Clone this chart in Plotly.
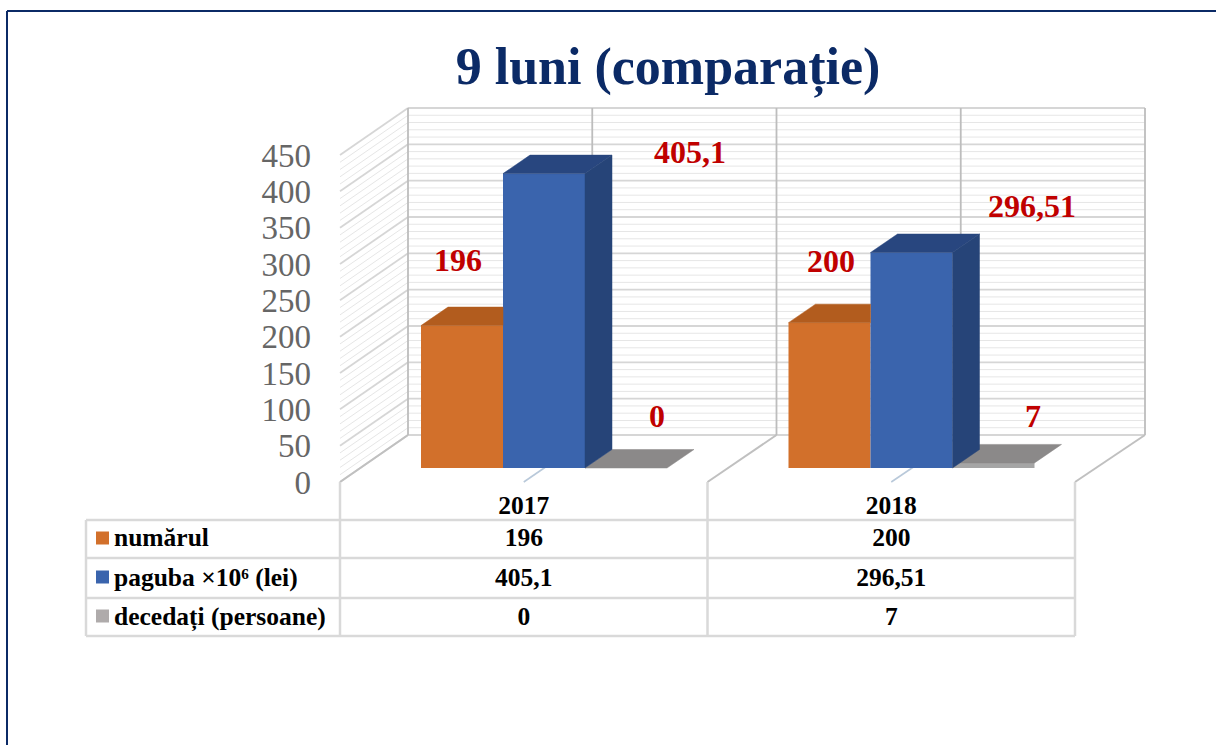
import plotly.graph_objects as go

# ---- data ----
years = ["2017", "2018"]
series_names = ["numărul", "paguba ×10⁶ (lei)", "decedați (persoane)"]
numarul = [196, 200]
paguba = [405.1, 296.51]
decedati = [0, 7]
tick_values = [0, 50, 100, 150, 200, 250, 300, 350, 400, 450]
minor_values = [v for v in range(0, 451, 10) if v % 50]

front = ["#D2702B", "#3A64AD", "#A5A5A5"]
top_c = ["#B25C1E", "#28467F", "#8B8989"]
side_c = ["#A8561C", "#264478", "#777777"]
swatch = ["#D2702B", "#3A64AD", "#AFABAB"]
RED = "#C00000"
NAVY = "#0B2A66"
SERIF = "Liberation Serif"

# ---- page geometry: 1 category = 367.5 px, 1 value unit = 0.7267 px ----
W, H = 1216, 745
X0, Y0, CAT, UNIT = 340, 482, 367.5, 0.7267
def X(px): return (px - X0) / CAT
def Y(py): return (Y0 - py) / UNIT

wall_dx, wall_dy = 68 / CAT, 47 / UNIT
wall_scale = 737 / 735          # the back wall is a touch wider than the table
bar_w = 82 / CAT
bar_dx, bar_dy = 27 / CAT, 18.5 / UNIT
bar_base = 14 / UNIT
bar_start = (421 - X0) / CAT

fig = go.Figure()

def segs(pairs, color, width):
    xs, ys = [], []
    for (x1, y1), (x2, y2) in pairs:
        xs += [x1, x2, None]
        ys += [y1, y2, None]
    fig.add_trace(go.Scatter(x=xs, y=ys, mode="lines", line=dict(color=color, width=width),
                             hoverinfo="skip", showlegend=False))

def poly(xs, ys, color):
    fig.add_trace(go.Scatter(x=xs, y=ys, mode="lines", fill="toself", fillcolor=color,
                             line=dict(color=color, width=0.5), hoverinfo="skip", showlegend=False,
                             xaxis="x2", yaxis="y2"))

def wx(c): return c * wall_scale + wall_dx

# walls: minor then major gridlines, on back wall and left side wall
for vals, col, w in ((minor_values, "#E6E6E6", 1), (tick_values, "#D6D6D6", 1.8)):
    segs([((wx(0), v + wall_dy), (wx(2), v + wall_dy)) for v in vals], col, w)
    segs([((0, v), (wx(0), v + wall_dy)) for v in vals], col, w)

# vertical back wall lines
segs([((wx(c), wall_dy), (wx(c), 450 + wall_dy)) for c in (0, .5, 1, 1.5, 2)], "#BDBDBD", 1.8)
# floor edges
segs([((c, 0), (wx(c), wall_dy)) for c in (0, 1, 2)], "#C0C0C0", 2)
segs([((c, 0), (wx(c), wall_dy)) for c in (.5, 1.5)], "#B9C9DA", 1.6)

# bar front faces, on an overlaid pair of axes so they stand above the gridlines
for s, vals in enumerate((numarul, paguba, decedati)):
    fig.add_trace(go.Bar(x=[i + bar_start + (s + .5) * bar_w for i in range(2)], y=vals,
                         base=bar_base, width=bar_w, marker=dict(color=front[s], line=dict(width=0)),
                         name=series_names[s], hoverinfo="skip", showlegend=False, xaxis="x2", yaxis="y2"))

# top faces, from the same values
for s, vals in enumerate((numarul, paguba, decedati)):
    for i, v in enumerate(vals):
        x1 = i + bar_start + s * bar_w
        x2 = x1 + bar_w
        t = bar_base + v
        # orange's depth is hidden behind the blue bar that stands next to it
        x_back_r = x2 if s == 0 else x2 + bar_dx
        poly([x1, x1 + bar_dx, x_back_r, x2, x1], [t, t + bar_dy, t + bar_dy, t, t], top_c[s])

# blue side faces go last, so they cover the grey slab's hidden corner
for i, v in enumerate(paguba):
    x2 = i + bar_start + 2 * bar_w
    t = bar_base + v
    poly([x2, x2 + bar_dx, x2 + bar_dx, x2, x2],
         [bar_base, bar_base + bar_dy, t + bar_dy, t, bar_base], side_c[1])

# data labels
def fmt(v): return str(v).replace(".", ",")
label_px = {0: [(458, 263), (831, 264)], 1: [(690, 155), (1032, 209)], 2: [(657, 419), (1033, 419)]}
for s, vals in enumerate((numarul, paguba, decedati)):
    fig.add_trace(go.Scatter(x=[X(p[0]) for p in label_px[s]], y=[Y(p[1]) for p in label_px[s]],
                             mode="text", text=[fmt(v) for v in vals], textposition="middle center",
                             textfont=dict(family=SERIF, size=32, color=RED, weight=700),
                             hoverinfo="skip", showlegend=False, xaxis="x2", yaxis="y2"))

# data table
TC = "#D9D9D9"
row_lines = [520, 558, 598, 636]
left = X(86)
segs([((left, Y(r)), (2, Y(r))) for r in row_lines], TC, 2.5)
segs([((left, Y(520)), (left, Y(636)))], TC, 2.5)
segs([((c, 0), (c, Y(636))) for c in (0, 1, 2)], TC, 2.5)

cell_font = dict(family=SERIF, size=25.5, color="#000000", weight=700)
fig.add_trace(go.Scatter(x=[.5, 1.5], y=[Y(508)] * 2, mode="text", text=years, textposition="middle center",
                         textfont=cell_font, hoverinfo="skip", showlegend=False))
row_y = [540, 580, 619]
swatch_y = [538, 577, 616]
for s, vals in enumerate((numarul, paguba, decedati)):
    fig.add_trace(go.Scatter(x=[.5, 1.5], y=[Y(row_y[s])] * 2, mode="text", text=[fmt(v) for v in vals],
                             textposition="middle center", textfont=cell_font, hoverinfo="skip", showlegend=False))
    fig.add_trace(go.Scatter(x=[X(102.5)], y=[Y(swatch_y[s])], mode="markers",
                             marker=dict(symbol="square", size=13, color=swatch[s], line=dict(width=0)),
                             hoverinfo="skip", showlegend=False))
    fig.add_trace(go.Scatter(x=[X(114)], y=[Y(row_y[s])], mode="text", text=[series_names[s]],
                             textposition="middle right", textfont=cell_font,
                             hoverinfo="skip", showlegend=False))

fig.update_layout(
    width=W, height=H, margin=dict(l=0, r=0, t=0, b=0), autosize=False,
    paper_bgcolor="white", plot_bgcolor="white", barmode="overlay", font=dict(family=SERIF),
    title=dict(text="<b>9 luni (comparație)</b>", x=668 / W, xanchor="center", y=1 - 66 / H, yanchor="middle",
               font=dict(family=SERIF, size=52, color=NAVY)),
    xaxis=dict(range=[X(0), X(W)], visible=False, fixedrange=True),
    yaxis=dict(range=[Y(H), Y(0)], anchor="free", position=X0 / W, tickmode="array", tickvals=tick_values,
               ticktext=[str(v) for v in tick_values], tickfont=dict(family=SERIF, size=33, color="#666666"),
               ticklabelstandoff=29, ticks="", showgrid=False, zeroline=False, showline=False, fixedrange=True),
    xaxis2=dict(range=[X(0), X(W)], visible=False, fixedrange=True, overlaying="x"),
    yaxis2=dict(range=[Y(H), Y(0)], visible=False, fixedrange=True, overlaying="y"),
    shapes=[dict(type="line", xref="paper", yref="paper", x0=7 / W, x1=7 / W, y0=0, y1=1 - 11 / H,
                 line=dict(color=NAVY, width=2)),
            dict(type="line", xref="paper", yref="paper", x0=7 / W, x1=1, y0=1 - 11 / H, y1=1 - 11 / H,
                 line=dict(color=NAVY, width=2))],
)
fig.write_html("out.html", config=dict(displayModeBar=False),
               post_script="document.body.style.margin='0';document.documentElement.style.overflow='hidden';")
